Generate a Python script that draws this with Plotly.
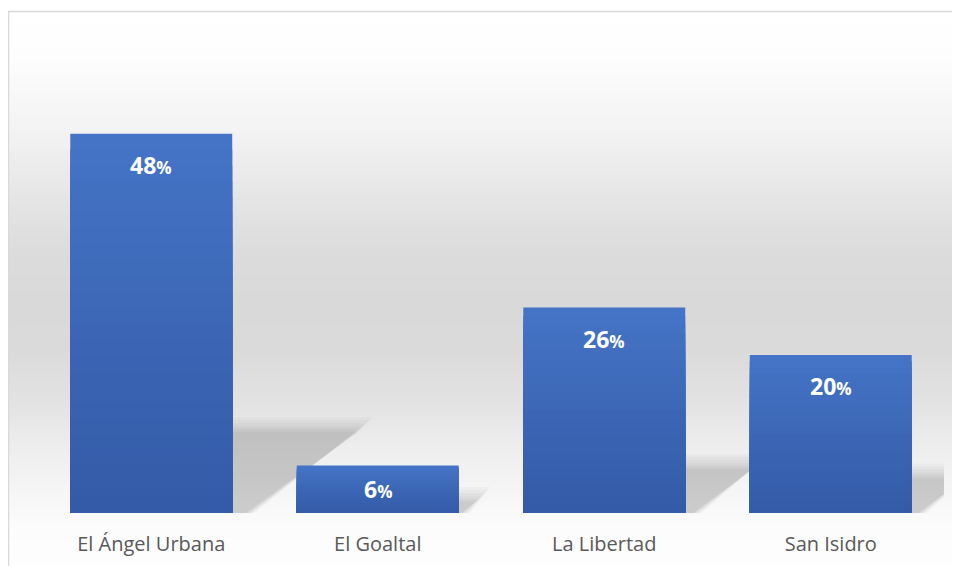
import plotly.graph_objects as go

# ---- data ----
categories = ["El Ángel Urbana", "El Goaltal", "La Libertad", "San Isidro"]
values = [48, 6, 26, 20]
value_labels = ["48", "6", "26", "20"]

# ---- style ----
BAR_WIDTH = 0.715
TOP_RGB = (69, 116, 198)
BOT_RGB = (51, 90, 166)
N_LAYERS = 24
Y_MAX = 60
FIG_W, FIG_H = 952, 558          # page body has an 8px margin
OFF = 8                          # screen px -> figure px offset
M_L, M_R, M_T, M_B = 30, 16, 31, 53
PLOT_W = FIG_W - M_L - M_R
PLOT_H = FIG_H - M_T - M_B
PX_PER_UNIT_Y = PLOT_H / Y_MAX
PX_PER_CAT = PLOT_W / len(categories)


def mix(a, b, t):
    return "rgb(%d,%d,%d)" % tuple(round(a[i] + (b[i] - a[i]) * t) for i in range(3))


fig = go.Figure()

# bars with vertical gradient: overlaid bars, each shorter and darker
for k in range(N_LAYERS):
    frac = 1 - k / N_LAYERS
    t = (k + 0.5) / N_LAYERS
    fig.add_trace(go.Bar(
        x=categories,
        y=[v * frac for v in values],
        width=BAR_WIDTH,
        marker=dict(color=mix(TOP_RGB, BOT_RGB, t), line=dict(width=0)),
        hoverinfo="skip" if k else "x+y",
        showlegend=False,
    ))

shapes = []

# background gradient (white -> grey -> white), screen-pixel stops
stops = [(11, 255), (60, 253), (130, 243), (200, 229), (250, 220), (300, 217),
         (350, 218), (400, 226), (450, 238), (500, 247), (530, 252), (570, 254)]


def grey_at(y):
    for (y0, g0), (y1, g1) in zip(stops, stops[1:]):
        if y0 <= y <= y1:
            return g0 + (g1 - g0) * (y - y0) / (y1 - y0)
    return stops[-1][1]


def py2paper(y):
    return (FIG_H - M_B - (y - OFF)) / PLOT_H


def px2paper(x):
    return ((x - OFF) - M_L) / PLOT_W


step = 3
y = 11
while y < 570:
    g = round(grey_at(y + step / 2))
    shapes.append(dict(type="rect", xref="paper", yref="paper",
                       x0=px2paper(9), x1=px2paper(975),
                       y0=py2paper(y), y1=py2paper(y + step + 0.6),
                       fillcolor="rgb(%d,%d,%d)" % (g, g, g),
                       line=dict(width=0), layer="below"))
    y += step

# chart border
shapes.append(dict(type="rect", xref="paper", yref="paper",
                   x0=px2paper(8.5), x1=px2paper(980),
                   y0=py2paper(600), y1=py2paper(11.5),
                   line=dict(color="#d9d9d9", width=1.5),
                   fillcolor="rgba(0,0,0,0)", layer="below"))

# perspective shadows to the right of each bar (blurred via layered polygons)
for i, v in enumerate(values):
    xr = i + BAR_WIDTH / 2
    h = 0.21 * v
    w = 0.0115 * v
    for blur in [16, 13, 10, 7, 5, 3, 1]:
        dx = blur / PX_PER_CAT
        dy = blur / PX_PER_UNIT_Y
        path = "M {a},{b} L {c},{d} L {e},{f} L {g},{hh} Z".format(
            a=xr, b=0,
            c=xr, d=h + dy,
            e=xr + w + dx, f=h + dy,
            g=xr + 0.1 * w + dx * 0.6, hh=0,
        )
        shapes.append(dict(type="path", xref="x", yref="y", path=path,
                           fillcolor="rgba(60,60,60,0.034)",
                           line=dict(width=0), layer="below"))

# data labels
annotations = []
for c, v, lab in zip(categories, values, value_labels):
    small = v * PX_PER_UNIT_Y < 70
    annotations.append(dict(
        x=c, y=v / 2 if small else v, xref="x", yref="y",
        yshift=0 if small else -31,
        text="<b>%s<span style='font-size:17px'>%%</span></b>" % lab,
        showarrow=False, yanchor="middle",
        font=dict(family="Open Sans", size=23, color="white"),
    ))

fig.update_layout(
    width=FIG_W, height=FIG_H,
    margin=dict(l=M_L, r=M_R, t=M_T, b=M_B, pad=0, autoexpand=False),
    barmode="overlay",
    paper_bgcolor="white",
    plot_bgcolor="rgba(0,0,0,0)",
    shapes=shapes,
    annotations=annotations,
    showlegend=False,
    xaxis=dict(range=[-0.5, len(categories) - 0.5], autorange=False,
               automargin=False,
               showgrid=False, showline=False, zeroline=False, ticks="",
               tickfont=dict(family="Open Sans", size=20, color="#595959"),
               ticklabelstandoff=17),
    yaxis=dict(range=[0, Y_MAX], autorange=False, visible=False,
               automargin=False, showgrid=False, zeroline=False),
)

fig.write_html("out.html")
